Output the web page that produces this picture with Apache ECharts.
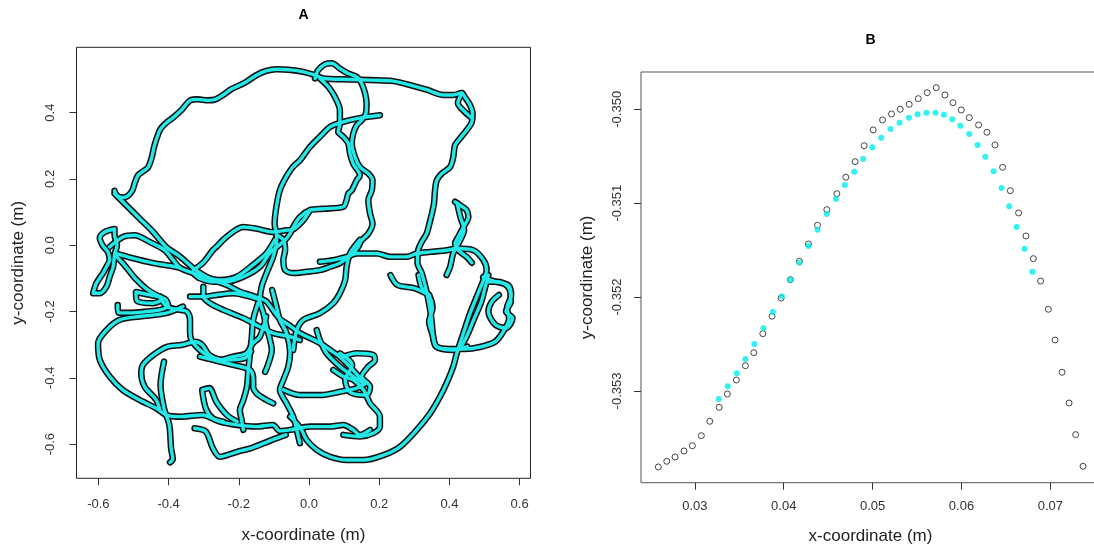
<!DOCTYPE html>
<html>
<head>
<meta charset="utf-8">
<script src="https://cdn.jsdelivr.net/npm/echarts@6.0.0/dist/echarts.min.js"></script>
<style>
  html, body { margin: 0; padding: 0; background: #fff; }
  #chart { width: 1094px; height: 550px; }
</style>
</head>
<body>
<div id="chart"></div>
<script>
// ---- Panel A: tracked path, one array per traced stretch of the route (x, y in metres) ----
const seg01 = [[-0.554,0.164],[-0.547,0.149],[-0.530,0.144],[-0.516,0.149],[-0.503,0.166],[-0.497,0.186],[-0.487,0.211],[-0.471,0.224],[-0.459,0.234],[-0.449,0.261],[-0.440,0.302],[-0.424,0.349],[-0.407,0.369],[-0.387,0.385],[-0.364,0.407],[-0.338,0.437],[-0.316,0.440],[-0.288,0.437],[-0.269,0.439],[-0.245,0.453],[-0.221,0.471],[-0.183,0.490],[-0.150,0.513],[-0.122,0.526],[-0.093,0.531],[-0.046,0.528],[-0.016,0.523],[0.017,0.513],[0.041,0.503],[0.117,0.500],[0.174,0.498],[0.240,0.495],[0.288,0.483],[0.335,0.469],[0.383,0.453],[0.411,0.453],[0.435,0.459],[0.444,0.447],[0.459,0.422],[0.466,0.397],[0.464,0.372],[0.449,0.347],[0.430,0.322],[0.416,0.302],[0.411,0.266],[0.402,0.236],[0.378,0.216],[0.364,0.196],[0.359,0.166],[0.356,0.126],[0.350,0.095],[0.343,0.065],[0.335,0.035],[0.321,0.010],[0.311,-0.015],[0.309,-0.053],[0.321,-0.084],[0.335,-0.140],[0.345,-0.195],[0.350,-0.235],[0.354,-0.276],[0.364,-0.306],[0.402,-0.313],[0.444,-0.313],[0.487,-0.307],[0.530,-0.291],[0.553,-0.261],[0.570,-0.220],[0.564,-0.189],[0.576,-0.150],[0.567,-0.120],[0.530,-0.110],[0.496,-0.096]];
const seg02 = [[-0.554,0.156],[-0.521,0.121],[-0.482,0.080],[-0.444,0.040],[-0.407,-0.005],[-0.368,-0.034],[-0.330,-0.069],[-0.301,-0.090],[-0.273,-0.105],[-0.234,-0.120],[-0.197,-0.140],[-0.168,-0.150],[-0.140,-0.160],[-0.121,-0.170],[-0.085,-0.220],[-0.054,-0.243],[-0.026,-0.265],[0.003,-0.280],[0.031,-0.295],[0.060,-0.316],[0.088,-0.337],[0.117,-0.367],[0.140,-0.394],[0.160,-0.418]];
const seg03 = [[0.202,0.392],[0.136,0.382],[0.088,0.369],[0.060,0.357],[0.031,0.327],[0.003,0.297],[-0.026,0.256],[-0.046,0.236],[-0.065,0.206],[-0.083,0.166],[-0.093,0.116],[-0.098,0.065],[-0.093,0.035],[-0.092,0.016],[-0.102,-0.034],[-0.121,-0.084],[-0.135,-0.125],[-0.140,-0.165],[-0.130,-0.205],[-0.121,-0.246],[-0.111,-0.286],[-0.106,-0.316],[-0.117,-0.361],[-0.125,-0.382]];
const seg04 = [[0.017,0.503],[0.026,0.528],[0.046,0.546],[0.065,0.549],[0.088,0.533],[0.112,0.518],[0.136,0.508],[0.150,0.488],[0.160,0.457],[0.164,0.427],[0.162,0.397],[0.150,0.377],[0.136,0.362],[0.126,0.337],[0.122,0.307],[0.131,0.266],[0.145,0.236],[0.169,0.216],[0.181,0.196],[0.179,0.166],[0.169,0.136],[0.174,0.095],[0.181,0.065],[0.169,0.035],[0.150,0.015],[0.140,-0.005],[0.126,-0.024],[0.088,-0.054],[0.060,-0.065],[0.031,-0.075],[-0.007,-0.080],[-0.045,-0.084],[-0.068,-0.075],[-0.073,-0.044],[-0.068,-0.014],[-0.073,0.016],[-0.092,0.031]];
const seg05 = [[-0.054,-0.517],[-0.035,-0.537],[-0.021,-0.557],[-0.007,-0.587],[0.022,-0.617],[0.060,-0.638],[0.107,-0.648],[0.155,-0.648],[0.212,-0.633],[0.259,-0.608],[0.307,-0.557],[0.345,-0.507],[0.373,-0.457],[0.392,-0.416],[0.411,-0.366],[0.421,-0.326],[0.440,-0.265],[0.459,-0.205],[0.478,-0.155],[0.497,-0.105],[0.506,-0.075],[0.497,-0.045],[0.468,-0.015],[0.421,-0.010],[0.392,-0.015],[0.345,-0.020],[0.307,-0.025],[0.278,-0.035],[0.231,-0.035],[0.193,-0.025],[0.136,-0.025],[0.107,-0.035],[0.069,-0.045],[0.031,-0.050]];
const seg06 = [[0.031,0.503],[0.055,0.478],[0.074,0.447],[0.088,0.407],[0.088,0.367],[0.083,0.342],[0.098,0.327],[0.112,0.307],[0.117,0.276],[0.126,0.246],[0.145,0.211],[0.136,0.196],[0.122,0.166],[0.112,0.156],[0.107,0.136],[0.098,0.116],[0.041,0.110],[0.003,0.106],[-0.026,0.085],[-0.045,0.055],[-0.054,0.035],[-0.068,0.016],[-0.111,-0.023],[-0.140,-0.065],[-0.187,-0.095],[-0.234,-0.110],[-0.273,-0.110],[-0.311,-0.100],[-0.330,-0.084]];
const seg07 = [[-0.330,-0.075],[-0.302,-0.053],[-0.274,-0.015],[-0.263,-0.004],[-0.234,0.026],[-0.188,0.055],[-0.150,0.050],[-0.103,0.040],[-0.065,0.045],[-0.045,0.048],[-0.016,0.076],[0.003,0.106]];
const seg08 = [[-0.568,-0.005],[-0.530,0.025],[-0.497,0.030],[-0.454,0.010],[-0.411,-0.015],[-0.387,-0.045],[-0.368,-0.068],[-0.330,-0.084],[-0.282,-0.100],[-0.254,-0.105],[-0.206,-0.095],[-0.159,-0.059],[-0.121,-0.024],[-0.097,0.016]];
const seg09 = [[-0.554,0.049],[-0.582,0.040],[-0.596,0.022],[-0.587,-0.002],[-0.573,-0.020],[-0.568,-0.044],[-0.577,-0.065],[-0.587,-0.084],[-0.606,-0.115],[-0.615,-0.145],[-0.596,-0.145],[-0.577,-0.125],[-0.568,-0.095],[-0.558,-0.065],[-0.554,-0.029],[-0.547,0.001],[-0.554,0.031],[-0.554,0.049]];
const seg10 = [[-0.553,-0.024],[-0.503,-0.039],[-0.443,-0.054],[-0.396,-0.062],[-0.368,-0.068]];
const seg11 = [[-0.425,-0.155],[-0.405,-0.185],[-0.368,-0.195],[-0.348,-0.200],[-0.339,-0.225],[-0.339,-0.256],[-0.335,-0.286],[-0.311,-0.316],[-0.283,-0.336],[-0.254,-0.346],[-0.217,-0.336],[-0.179,-0.326],[-0.160,-0.296],[-0.140,-0.276],[-0.122,-0.215]];
const seg12 = [[-0.545,-0.180],[-0.543,-0.203],[-0.510,-0.204],[-0.462,-0.200],[-0.425,-0.195],[-0.401,-0.183],[-0.410,-0.162],[-0.453,-0.150],[-0.493,-0.141],[-0.490,-0.168],[-0.444,-0.175],[-0.415,-0.160],[-0.425,-0.155]];
const seg13 = [[-0.359,-0.185],[-0.407,-0.205],[-0.482,-0.215],[-0.539,-0.225],[-0.577,-0.256],[-0.601,-0.296],[-0.596,-0.346],[-0.568,-0.396],[-0.530,-0.437],[-0.482,-0.467],[-0.435,-0.492],[-0.405,-0.513],[-0.364,-0.517],[-0.304,-0.512],[-0.254,-0.532],[-0.205,-0.542],[-0.151,-0.547],[-0.103,-0.542],[-0.083,-0.560],[-0.054,-0.557],[0.003,-0.547],[0.060,-0.547],[0.098,-0.542],[0.126,-0.557],[0.145,-0.572],[0.174,-0.557]];
const seg14 = [[-0.413,-0.351],[-0.423,-0.421],[-0.413,-0.492],[-0.398,-0.542],[-0.393,-0.612],[-0.388,-0.645],[-0.396,-0.655]];
const seg15 = [[-0.425,-0.497],[-0.435,-0.467],[-0.468,-0.427],[-0.478,-0.386],[-0.473,-0.361],[-0.443,-0.331],[-0.403,-0.306],[-0.364,-0.301],[-0.324,-0.291],[-0.304,-0.301],[-0.284,-0.331],[-0.244,-0.346],[-0.185,-0.341],[-0.165,-0.321]];
const seg16 = [[-0.145,-0.174],[-0.159,-0.225],[-0.163,-0.276],[-0.168,-0.326],[-0.173,-0.376],[-0.177,-0.427],[-0.187,-0.467],[-0.197,-0.497],[-0.192,-0.527],[-0.187,-0.557]];
const seg17 = [[-0.105,-0.135],[-0.094,-0.180],[-0.083,-0.225],[-0.064,-0.265],[-0.054,-0.326],[-0.059,-0.366],[-0.073,-0.406],[-0.083,-0.436],[-0.064,-0.477],[-0.045,-0.517],[-0.035,-0.557],[-0.026,-0.597]];
const seg18 = [[0.022,-0.256],[0.031,-0.286],[0.050,-0.326],[0.088,-0.366],[0.126,-0.396],[0.155,-0.416]];
const seg19 = [[-0.311,-0.336],[-0.273,-0.346],[-0.216,-0.361],[-0.168,-0.376],[-0.159,-0.406],[-0.159,-0.427],[-0.149,-0.447],[-0.121,-0.467],[-0.102,-0.477]];
const seg20 = [[-0.073,-0.436],[-0.026,-0.452],[0.031,-0.452],[0.088,-0.442],[0.136,-0.431],[0.160,-0.418]];
const seg21 = [[0.069,-0.376],[0.098,-0.396],[0.126,-0.406],[0.155,-0.436],[0.174,-0.477],[0.202,-0.517],[0.202,-0.547],[0.183,-0.567],[0.145,-0.577],[0.098,-0.572]];
const seg22 = [[0.098,-0.336],[0.136,-0.326],[0.183,-0.331],[0.188,-0.346],[0.169,-0.366],[0.150,-0.396],[0.174,-0.427],[0.164,-0.452],[0.117,-0.443],[0.103,-0.406],[0.123,-0.361],[0.088,-0.326]];
const seg23 = [[0.145,0.016],[0.117,-0.024],[0.107,-0.065],[0.103,-0.105],[0.088,-0.145],[0.069,-0.175],[0.031,-0.205],[-0.016,-0.225],[-0.035,-0.256],[-0.045,-0.316]];
const seg24 = [[-0.301,-0.125],[-0.301,-0.155],[-0.282,-0.175],[-0.244,-0.195],[-0.187,-0.220],[-0.140,-0.246],[-0.102,-0.265],[-0.054,-0.276],[-0.026,-0.286]];
const seg25 = [[-0.339,-0.155],[-0.301,-0.155],[-0.263,-0.150],[-0.216,-0.145],[-0.168,-0.155],[-0.140,-0.165]];
const seg26 = [[-0.326,-0.552],[-0.294,-0.562],[-0.274,-0.612],[-0.254,-0.638],[-0.205,-0.623],[-0.165,-0.612],[-0.105,-0.587],[-0.066,-0.572]];
const seg27 = [[-0.304,-0.436],[-0.284,-0.431],[-0.264,-0.472],[-0.234,-0.512],[-0.205,-0.532]];
const seg28 = [[-0.304,-0.441],[-0.294,-0.492],[-0.274,-0.522],[-0.244,-0.532]];
const seg29 = [[0.312,-0.090],[0.322,-0.130],[0.342,-0.150],[0.352,-0.190],[0.342,-0.230],[0.352,-0.271],[0.362,-0.306],[0.411,-0.316],[0.451,-0.306]];
const seg30 = [[0.232,-0.090],[0.252,-0.120],[0.302,-0.130],[0.342,-0.150]];
const seg31 = [[0.511,-0.110],[0.541,-0.110],[0.570,-0.130],[0.575,-0.170],[0.561,-0.200],[0.580,-0.220],[0.561,-0.250],[0.531,-0.240],[0.511,-0.200],[0.521,-0.170],[0.541,-0.150]];
const seg32 = [[0.431,-0.311],[0.451,-0.271],[0.471,-0.220],[0.491,-0.170],[0.501,-0.130],[0.511,-0.090]];
const seg33 = [[0.416,0.131],[0.430,0.121],[0.449,0.106],[0.454,0.085],[0.440,0.055],[0.425,0.025],[0.416,0.005],[0.425,-0.015],[0.449,-0.035],[0.464,-0.053]];
const seg34 = [[0.422,0.127],[0.431,0.086],[0.442,0.046],[0.431,0.016],[0.411,-0.024],[0.402,-0.065],[0.392,-0.090]];
const seg35 = [[0.436,0.459],[0.424,0.429],[0.444,0.402],[0.464,0.384]];
const seg36 = [[-0.553,-0.029],[-0.524,-0.062],[-0.496,-0.099],[-0.459,-0.135],[-0.425,-0.155]];

const xTicksA = [-0.6, -0.4, -0.2, 0, 0.2, 0.4, 0.6];
const yTicksA = [-0.6, -0.4, -0.2, 0, 0.2, 0.4];

// ---- Panel B: close-up of one turn; raw positions (open) and smoothed positions (filled) ----
const rawX = [0.02589,0.02684,0.02777,0.02878,0.02972,0.03073,0.03168,0.03273,0.03366,0.03467,0.03569,0.03663,0.03765,0.03869,0.03971,0.04075,0.04177,0.04278,0.04380,0.04485,0.04598,0.04699,0.04804,0.04905,0.05007,0.05112,0.05213,0.05311,0.05412,0.05514,0.05615,0.05716,0.05814,0.05904,0.05998,0.06088,0.06193,0.06287,0.06377,0.06463,0.06550,0.06643,0.06726,0.06809,0.06891,0.06978,0.07053,0.07132,0.07211,0.07285,0.07368];
const rawY = [-0.353809,-0.353749,-0.353703,-0.353639,-0.353583,-0.353476,-0.353323,-0.353174,-0.353032,-0.352883,-0.352731,-0.352592,-0.352390,-0.352204,-0.352010,-0.351815,-0.351619,-0.351435,-0.351235,-0.351069,-0.350899,-0.350724,-0.350558,-0.350388,-0.350220,-0.350114,-0.350050,-0.350000,-0.349947,-0.349887,-0.349823,-0.349770,-0.349848,-0.349930,-0.350007,-0.350089,-0.350167,-0.350245,-0.350380,-0.350618,-0.350867,-0.351104,-0.351349,-0.351591,-0.351829,-0.352130,-0.352457,-0.352801,-0.353128,-0.353465,-0.353802];
const smoothX = [0.03269,0.03370,0.03472,0.03569,0.03670,0.03771,0.03877,0.03979,0.04075,0.04177,0.04278,0.04380,0.04485,0.04587,0.04688,0.04793,0.04894,0.04996,0.05097,0.05202,0.05303,0.05409,0.05506,0.05607,0.05708,0.05803,0.05896,0.05987,0.06088,0.06181,0.06268,0.06362,0.06452,0.06538,0.06621,0.06711,0.06797];
const smoothY = [-0.353085,-0.352950,-0.352812,-0.352659,-0.352500,-0.352332,-0.352159,-0.351991,-0.351815,-0.351634,-0.351456,-0.351282,-0.351115,-0.350955,-0.350806,-0.350665,-0.350529,-0.350405,-0.350302,-0.350210,-0.350143,-0.350089,-0.350053,-0.350036,-0.350036,-0.350058,-0.350106,-0.350175,-0.350263,-0.350380,-0.350505,-0.350660,-0.350838,-0.351033,-0.351253,-0.351485,-0.351730];

const xTicksB = [0.03, 0.04, 0.05, 0.06, 0.07];
const yTicksB = [-0.353, -0.352, -0.351, -0.350];

const FONT = '"Liberation Sans", Arial, Helvetica, sans-serif';

const segments = [seg01, seg02, seg03, seg04, seg05, seg06, seg07, seg08, seg09, seg10, seg11, seg12,
  seg13, seg14, seg15, seg16, seg17, seg18, seg19, seg20, seg21, seg22, seg23, seg24,
  seg25, seg26, seg27, seg28, seg29, seg30, seg31, seg32, seg33, seg34, seg35, seg36];

function pathSeries(data, color, width, z) {
  return {
    type: 'line', xAxisIndex: 0, yAxisIndex: 0, data: data,
    showSymbol: false, symbol: 'none', smooth: 0.3, silent: true, z: z,
    lineStyle: { color: color, width: width, cap: 'round', join: 'round' }
  };
}

const series = [];
segments.forEach(s => series.push(pathSeries(s, '#121212', 6.5, 2)));
segments.forEach(s => series.push(pathSeries(s, '#22e8e8', 3.4, 3)));

series.push({
  type: 'scatter', xAxisIndex: 1, yAxisIndex: 1, z: 2, silent: true,
  data: rawX.map((x, i) => [x, rawY[i]]),
  symbol: 'circle', symbolSize: 6,
  itemStyle: { color: 'rgba(255,255,255,0)', borderColor: '#1a1a1a', borderWidth: 1 }
});
series.push({
  type: 'scatter', xAxisIndex: 1, yAxisIndex: 1, z: 3, silent: true,
  data: smoothX.map((x, i) => [x, smoothY[i]]),
  symbol: 'circle', symbolSize: 6,
  itemStyle: { color: '#00eeee', borderWidth: 0 }
});

function valueAxis(opts) {
  return Object.assign({
    type: 'value',
    splitLine: { show: false },
    axisLine: { show: false, onZero: false },
    axisTick: { show: true, length: 7, customValues: opts.ticks, lineStyle: { color: '#333', width: 1 } },
    axisLabel: {
      customValues: opts.ticks, formatter: v => v.toFixed(opts.dec),
      margin: opts.margin, fontSize: 13, color: '#333', fontFamily: FONT, rotate: opts.rotate || 0
    },
    nameLocation: 'middle',
    nameTextStyle: { fontSize: 17, color: '#222', fontFamily: FONT }
  }, opts.extra);
}

const chart = echarts.init(document.getElementById('chart'), null, { renderer: 'canvas' });
chart.setOption({
  animation: false,
  backgroundColor: '#ffffff',
  grid: [
    { left: 76.5, top: 47.3, width: 454, height: 431, show: true, borderColor: '#222', borderWidth: 1, containLabel: false, outerBoundsMode: 'none' },
    { left: 641, top: 72, width: 459, height: 410.7, show: true, borderColor: '#555', borderWidth: 1, containLabel: false, outerBoundsMode: 'none' }
  ],
  xAxis: [
    valueAxis({ ticks: xTicksA, dec: 1, margin: 20, extra: { gridIndex: 0, min: -0.6624, max: 0.631, name: 'x-coordinate (m)', nameGap: 49 } }),
    valueAxis({ ticks: xTicksB, dec: 2, margin: 17.5, extra: { gridIndex: 1, min: 0.02394, max: 0.07559, name: 'x-coordinate (m)', nameGap: 45 } })
  ],
  yAxis: [
    valueAxis({ ticks: yTicksA, dec: 1, margin: 19.5, rotate: 90, extra: { gridIndex: 0, min: -0.703, max: 0.597, name: 'y-coordinate (m)', nameGap: 50 } }),
    valueAxis({ ticks: yTicksB, dec: 3, margin: 17.5, rotate: 90, extra: { gridIndex: 1, min: -0.353977, max: -0.349603, name: 'y-coordinate (m)', nameGap: 45 } })
  ],
  graphic: [
    { type: 'text', x: 303.5, y: 15, silent: true,
      style: { text: 'A', font: 'bold 14px ' + FONT, fill: '#000', align: 'center', verticalAlign: 'middle' } },
    { type: 'text', x: 870.5, y: 40, silent: true,
      style: { text: 'B', font: 'bold 14px ' + FONT, fill: '#000', align: 'center', verticalAlign: 'middle' } }
  ],
  series: series
});
</script>
</body>
</html>
